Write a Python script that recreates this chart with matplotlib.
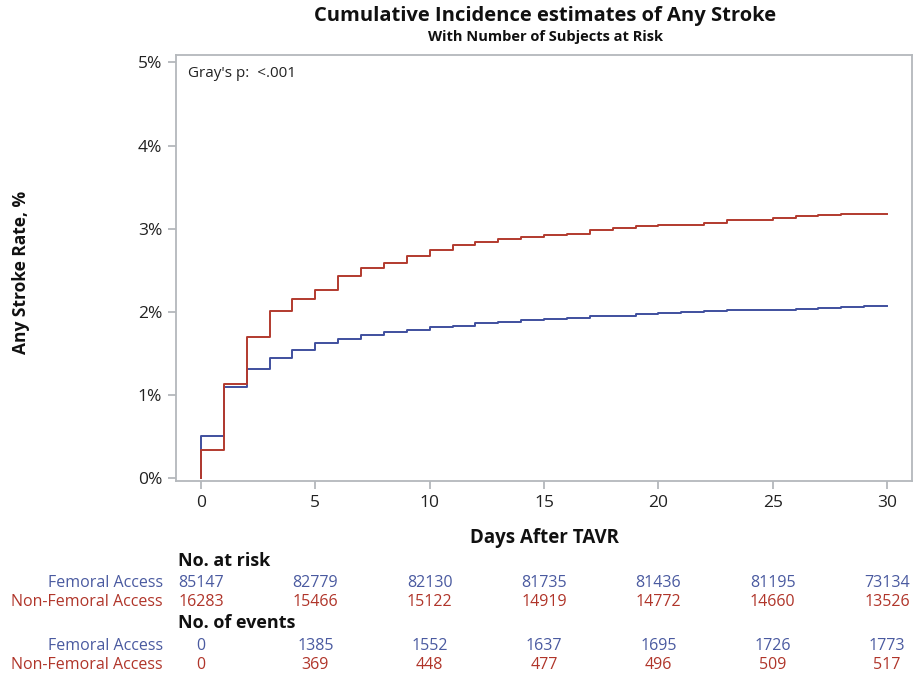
import matplotlib
matplotlib.use("Agg")
import matplotlib.pyplot as plt
import matplotlib.transforms as mtransforms
import numpy as np

plt.rcParams['font.family'] = ['Open Sans', 'DejaVu Sans']

# ---- data ----
days = list(range(0, 31))
femoral = [0.512, 1.097, 1.314, 1.450, 1.542, 1.626, 1.678, 1.722, 1.755, 1.782,
           1.822, 1.834, 1.863, 1.880, 1.899, 1.918, 1.930, 1.947, 1.955, 1.971,
           1.991, 1.999, 2.011, 2.019, 2.020, 2.027, 2.039, 2.051, 2.059, 2.075, 2.075]
nonfemoral = [0.337, 1.130, 1.695, 2.007, 2.155, 2.267, 2.431, 2.531, 2.592, 2.676,
              2.744, 2.808, 2.844, 2.872, 2.896, 2.924, 2.940, 2.988, 3.012, 3.036,
              3.044, 3.048, 3.072, 3.105, 3.107, 3.125, 3.156, 3.165, 3.173, 3.175, 3.175]
risk_days = [0, 5, 10, 15, 20, 25, 30]
fem_risk = [85147, 82779, 82130, 81735, 81436, 81195, 73134]
nonfem_risk = [16283, 15466, 15122, 14919, 14772, 14660, 13526]
fem_events = [0, 1385, 1552, 1637, 1695, 1726, 1773]
nonfem_events = [0, 369, 448, 477, 496, 509, 517]
group_labels = ["Femoral Access", "Non-Femoral Access"]
yticks = [0, 1, 2, 3, 4, 5]
ytick_labels = ["0%", "1%", "2%", "3%", "4%", "5%"]
xticks = [0, 5, 10, 15, 20, 25, 30]

BLUE = "#3F4F9E"
RED = "#B23A2E"
BLUE_T = "#4A5AA0"
RED_T = "#B0352A"
GRAY = "#B4B8BC"

W, H = 917, 676
fig = plt.figure(figsize=(W / 100, H / 100), dpi=100)
L, R, T, B = 176, 912, 55, 481
ax = fig.add_axes([L / W, 1 - B / H, (R - L) / W, (B - T) / H])

# step curves starting at 0
xs = [0] + days
yf = [0] + femoral
yn = [0] + nonfemoral
ax.step(xs, yf, where='post', color=BLUE, lw=1.4, zorder=3)
ax.step(xs, yn, where='post', color=RED, lw=1.4, zorder=4)

ax.set_xlim(-1.093, 31.09)
ax.set_ylim(-0.032, 5.088)
ax.set_xticks(xticks)
ax.set_xticklabels([str(x) for x in xticks])
ax.set_yticks(yticks)
ax.set_yticklabels(ytick_labels)
for s in ax.spines.values():
    s.set_color(GRAY)
    s.set_linewidth(1.3)
ax.tick_params(axis='both', direction='out', length=6, width=1.3, color=GRAY,
               labelsize=12.5, labelcolor='#222222', pad=4)

ax.text(0.016, 0.975, "Gray's p:  <.001", transform=ax.transAxes, ha='left', va='top',
        fontsize=11, color='#222222')

def fx(x):
    return x / W
def fy(y):
    return 1 - y / H

fig.text(fx(545), fy(16), "Cumulative Incidence estimates of Any Stroke", ha='center', va='center',
         fontsize=14.5, fontweight='bold', color='#111111')
fig.text(fx(545), fy(37), "With Number of Subjects at Risk", ha='center', va='center',
         fontsize=10.5, fontweight='bold', color='#111111')
fig.text(fx(21), fy(272), "Any Stroke Rate, %", ha='center', va='center', rotation=90,
         fontsize=12.5, fontweight='bold', color='#111111')
fig.text(fx(544), fy(538), "Days After TAVR", ha='center', va='center',
         fontsize=13.5, fontweight='bold', color='#111111')

# risk table
tr = mtransforms.blended_transform_factory(ax.transData, fig.transFigure)
fig.text(fx(178), fy(561), "No. at risk", ha='left', va='center', fontsize=13,
         fontweight='bold', color='#111111')
fig.text(fx(178), fy(623), "No. of events", ha='left', va='center', fontsize=13,
         fontweight='bold', color='#111111')

rows = [(583, group_labels[0], fem_risk, BLUE_T),
        (602, group_labels[1], nonfem_risk, RED_T),
        (646, group_labels[0], fem_events, BLUE_T),
        (665, group_labels[1], nonfem_events, RED_T)]
for ypix, lab, vals, col in rows:
    fig.text(fx(163), fy(ypix), lab, ha='right', va='center', fontsize=11.5, color=col)
    for d, v in zip(risk_days, vals):
        fig.text(d, fy(ypix), str(v), transform=tr, ha='center', va='center',
                 fontsize=11.5, color=col)

fig.savefig("out.png", dpi=100)
